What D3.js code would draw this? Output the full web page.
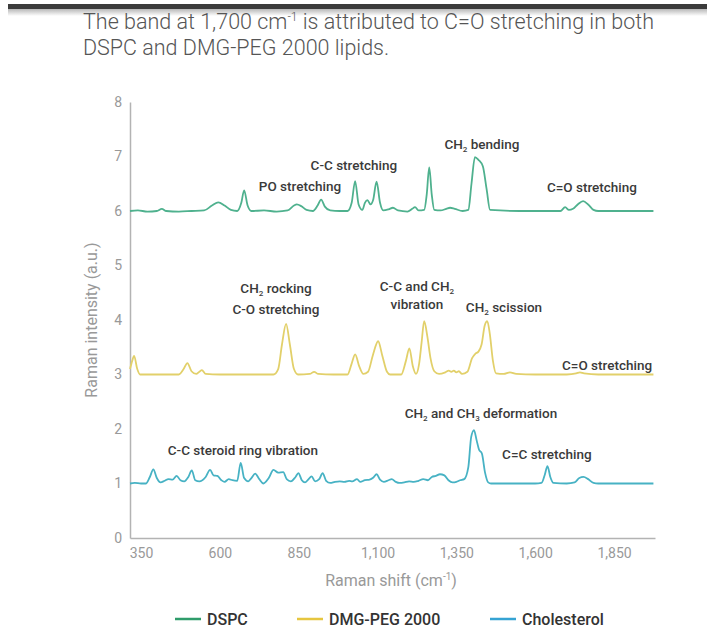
<!DOCTYPE html>
<html>
<head>
<meta charset="utf-8">
<script src="https://cdn.jsdelivr.net/npm/d3@7"></script>
<style>
  body { margin: 0; background: #fff; }
  svg { display: block; font-family: Roboto, "Noto Sans", sans-serif; }
</style>
</head>
<body>
<div id="chart"></div>
<script>
// Spectra (Raman shift in cm-1, intensity in a.u., offset per lipid)
const dspcShift = [315, 340, 370, 400, 416, 430, 470, 510, 550, 575, 595, 615, 635, 655, 668, 677, 688, 700, 740, 780, 815, 835, 844, 858, 875, 895, 910, 921, 933, 950, 980, 1005, 1018, 1029, 1040, 1052, 1060, 1068, 1078, 1086, 1097, 1108, 1118, 1135, 1149, 1165, 1195, 1210, 1219, 1230, 1248, 1256, 1264, 1272, 1280, 1300, 1318, 1330, 1345, 1370, 1388, 1398, 1409, 1420, 1434, 1446, 1457, 1550, 1650, 1680, 1695, 1707, 1720, 1735, 1752, 1768, 1785, 1800, 1900, 1975];
const dspcIntensity = [6.00, 6.01, 5.99, 6.00, 6.04, 6.00, 5.99, 6.00, 6.01, 6.10, 6.16, 6.10, 6.02, 6.00, 6.15, 6.38, 6.10, 6.00, 6.01, 5.99, 6.01, 6.10, 6.12, 6.09, 6.02, 6.00, 6.10, 6.21, 6.08, 6.01, 6.00, 6.00, 6.15, 6.55, 6.12, 6.02, 6.15, 6.20, 6.12, 6.20, 6.54, 6.15, 6.01, 6.03, 6.06, 6.01, 5.99, 6.04, 6.07, 6.01, 6.02, 6.30, 6.80, 6.30, 6.02, 6.01, 6.04, 6.06, 6.04, 6.00, 6.02, 6.50, 6.99, 6.94, 6.82, 6.40, 6.02, 6.00, 6.00, 6.00, 6.07, 6.02, 6.04, 6.12, 6.18, 6.12, 6.02, 6.00, 6.00, 6.00];

const pegShift = [315, 322, 328, 338, 347, 400, 470, 485, 497, 510, 525, 535, 543, 555, 600, 700, 770, 785, 797, 810, 822, 835, 848, 885, 899, 912, 960, 1005, 1018, 1029, 1042, 1055, 1070, 1085, 1102, 1115, 1130, 1140, 1175, 1190, 1201, 1212, 1222, 1232, 1240, 1248, 1258, 1268, 1280, 1295, 1315, 1326, 1334, 1342, 1350, 1358, 1368, 1385, 1400, 1410, 1420, 1430, 1440, 1448, 1456, 1466, 1476, 1500, 1520, 1540, 1600, 1700, 1730, 1742, 1755, 1800, 1900, 1975];
const pegIntensity = [3.10, 3.25, 3.34, 3.10, 3.00, 3.00, 3.00, 3.10, 3.21, 3.06, 3.01, 3.05, 3.08, 3.01, 3.00, 3.00, 3.00, 3.10, 3.55, 3.93, 3.55, 3.10, 3.00, 3.01, 3.05, 3.01, 3.00, 3.00, 3.20, 3.37, 3.15, 3.01, 3.05, 3.35, 3.61, 3.35, 3.05, 3.00, 3.00, 3.25, 3.48, 3.15, 3.01, 3.20, 3.60, 3.98, 3.70, 3.30, 3.06, 3.01, 3.04, 3.07, 3.05, 3.07, 3.04, 3.06, 3.01, 3.05, 3.30, 3.38, 3.42, 3.55, 3.90, 3.98, 3.75, 3.25, 3.02, 3.01, 3.04, 3.01, 3.00, 3.00, 3.02, 3.04, 3.02, 3.00, 3.00, 3.00];

const cholShift = [315, 330, 350, 365, 378, 389, 400, 412, 425, 437, 450, 463, 475, 487, 500, 511, 522, 535, 555, 569, 580, 592, 605, 615, 628, 640, 655, 666, 677, 690, 700, 712, 725, 738, 755, 770, 785, 801, 812, 825, 840, 849, 860, 870, 880, 891, 902, 915, 926, 937, 950, 965, 980, 995, 1010, 1020, 1035, 1045, 1060, 1075, 1087, 1097, 1108, 1120, 1135, 1145, 1158, 1170, 1185, 1200, 1215, 1230, 1245, 1260, 1272, 1285, 1298, 1312, 1325, 1338, 1350, 1362, 1375, 1388, 1397, 1406, 1414, 1422, 1431, 1441, 1451, 1460, 1600, 1620, 1630, 1639, 1648, 1658, 1700, 1725, 1740, 1753, 1768, 1785, 1800, 1900, 1975];
const cholIntensity = [1.00, 1.01, 1.00, 1.00, 1.12, 1.26, 1.10, 1.02, 1.05, 1.08, 1.07, 1.14, 1.06, 1.04, 1.12, 1.24, 1.06, 1.04, 1.12, 1.25, 1.15, 1.14, 1.06, 1.03, 1.08, 1.06, 1.05, 1.38, 1.10, 1.04, 1.10, 1.18, 1.08, 1.00, 1.10, 1.25, 1.20, 1.21, 1.08, 1.04, 1.12, 1.19, 1.06, 1.02, 1.07, 1.13, 1.04, 1.08, 1.19, 1.05, 1.01, 1.03, 1.04, 1.03, 1.05, 1.04, 1.08, 1.03, 1.06, 1.07, 1.11, 1.17, 1.07, 1.03, 1.06, 1.08, 1.03, 1.01, 1.02, 1.04, 1.03, 1.05, 1.08, 1.06, 1.12, 1.14, 1.17, 1.15, 1.06, 1.02, 1.03, 1.06, 1.08, 1.30, 1.85, 1.98, 1.80, 1.62, 1.55, 1.20, 1.02, 1.00, 1.00, 1.01, 1.15, 1.32, 1.12, 1.01, 1.00, 1.02, 1.10, 1.12, 1.08, 1.01, 1.00, 1.00, 1.00];

const seriesNames = ["DSPC", "DMG-PEG 2000", "Cholesterol"];
const xTicks = [350, 600, 850, 1100, 1350, 1600, 1850];
const yTicks = [0, 1, 2, 3, 4, 5, 6, 7, 8];

// Band annotations: [label lines, shift, intensity of the first baseline, line gap px]
const dspcLabels = [
  [["CH|2| bending"], 1431, 7.14, 0],
  [["C-C stretching"], 1025, 6.75, 0],
  [["PO stretching"], 854, 6.37, 0],
  [["C=O stretching"], 1780, 6.35, 0]
];
const pegLabels = [
  [["CH|2| rocking", "C-O stretching"], 778, 4.50, 21],
  [["C-C and CH|2|", "vibration"], 1225, 4.53, 18],
  [["CH|2| scission"], 1501, 4.15, 0],
  [["C=O stretching"], 1828, 3.08, 0]
];
const cholLabels = [
  [["CH|2| and CH|3| deformation"], 1428, 2.20, 0],
  [["C-C steroid ring vibration"], 673, 1.52, 0],
  [["C=C stretching"], 1637, 1.45, 0]
];

const width = 707, height = 631;
const lineColors = ["#4fb18e", "#e2d06a", "#47b2c4"];
const legendColors = ["#2f9c6b", "#e6c640", "#35a3d3"];

const svg = d3.select("#chart").append("svg")
  .attr("width", width)
  .attr("height", height);

// top bar of the page capture
const grad = svg.append("defs").append("linearGradient")
  .attr("id", "topShade").attr("x1", 0).attr("y1", 0).attr("x2", 0).attr("y2", 1);
grad.append("stop").attr("offset", "0%").attr("stop-color", "#b8b8b8");
grad.append("stop").attr("offset", "100%").attr("stop-color", "#ffffff");
svg.append("rect").attr("x", 8).attr("y", 9).attr("width", width - 8).attr("height", 7).attr("fill", "url(#topShade)");
svg.append("rect").attr("x", 8).attr("y", 4).attr("width", width - 8).attr("height", 5).attr("fill", "#3b3b3b");

// title
const title = svg.append("g").attr("fill", "#555").style("font-size", "21.5px").style("font-weight", 300);
const t1 = title.append("text").attr("x", 83).attr("y", 29);
t1.append("tspan").text("The band at 1,700 cm");
t1.append("tspan").attr("dy", -8).style("font-size", "12px").text("-1");
t1.append("tspan").attr("dy", 8).text(" is attributed to C=O stretching in both");
title.append("text").attr("x", 83).attr("y", 55).text("DSPC and DMG-PEG 2000 lipids.");

const x = d3.scaleLinear().domain([315, 1980]).range([130, 655]);
const y = d3.scaleLinear().domain([0, 8]).range([538, 102]);

// axes
const xAxis = svg.append("g")
  .attr("transform", `translate(0, ${y(0)})`)
  .call(d3.axisBottom(x).tickValues(xTicks).tickSize(0).tickPadding(10).tickFormat(d3.format(",")));
const yAxis = svg.append("g")
  .attr("transform", `translate(${x(315)}, 0)`)
  .call(d3.axisLeft(y).tickValues(yTicks).tickSize(0).tickPadding(8));

[xAxis, yAxis].forEach(ax => {
  ax.select(".domain").attr("stroke", "#b3b3b3").attr("stroke-width", 1.5);
  ax.selectAll("text").attr("fill", "#999").style("font-size", "14px").style("font-family", "Roboto, sans-serif");
});

// axis titles
const xt = svg.append("text")
  .attr("x", 391).attr("y", 586)
  .attr("text-anchor", "middle")
  .attr("fill", "#999").style("font-size", "16px");
xt.append("tspan").text("Raman shift (cm");
xt.append("tspan").attr("dy", -6).style("font-size", "10px").text("-1");
xt.append("tspan").attr("dy", 6).text(")");

svg.append("text")
  .attr("transform", "translate(97, 320) rotate(-90)")
  .attr("text-anchor", "middle")
  .attr("fill", "#999").style("font-size", "16px")
  .text("Raman intensity (a.u.)");

// spectra
const seriesData = [
  d3.zip(dspcShift, dspcIntensity),
  d3.zip(pegShift, pegIntensity),
  d3.zip(cholShift, cholIntensity)
];

const line = d3.line()
  .x(d => x(d[0]))
  .y(d => y(d[1]))
  .curve(d3.curveMonotoneX);

svg.selectAll(".spectrum")
  .data(seriesData)
  .enter()
  .append("path")
  .attr("class", "spectrum")
  .attr("d", line)
  .attr("fill", "none")
  .attr("stroke", (d, i) => lineColors[i])
  .attr("stroke-width", 1.8)
  .attr("stroke-linejoin", "round");

// annotations, "|2|" marks a subscript
function addLabel(lines, shift, level, gap) {
  const t = svg.append("text")
    .attr("text-anchor", "middle")
    .attr("fill", "#3a3a3a")
    .style("font-size", "13.5px")
    .style("font-weight", 500);
  lines.forEach((ln, li) => {
    const parts = ln.split("|");
    parts.forEach((p, pi) => {
      if (p === "") return;
      const ts = t.append("tspan").text(p);
      if (pi === 0) ts.attr("x", x(shift)).attr("y", y(level) + li * gap);
      else if (pi % 2 === 1) ts.attr("dy", 3).style("font-size", "8px");
      else ts.attr("dy", -3);
    });
  });
}
dspcLabels.concat(pegLabels, cholLabels).forEach(d => addLabel(d[0], d[1], d[2], d[3]));

// legend
const legendX = [175, 297, 490];
const legend = svg.selectAll(".legend")
  .data(seriesNames)
  .enter()
  .append("g")
  .attr("class", "legend")
  .attr("transform", (d, i) => `translate(${legendX[i]}, 619)`);
legend.append("line")
  .attr("x1", 0).attr("x2", 26)
  .attr("stroke", (d, i) => legendColors[i])
  .attr("stroke-width", 2.5);
legend.append("text")
  .attr("x", 32).attr("dy", "0.35em")
  .attr("fill", "#333")
  .style("font-size", "16px")
  .style("font-weight", 500)
  .text(d => d);
</script>
</body>
</html>
